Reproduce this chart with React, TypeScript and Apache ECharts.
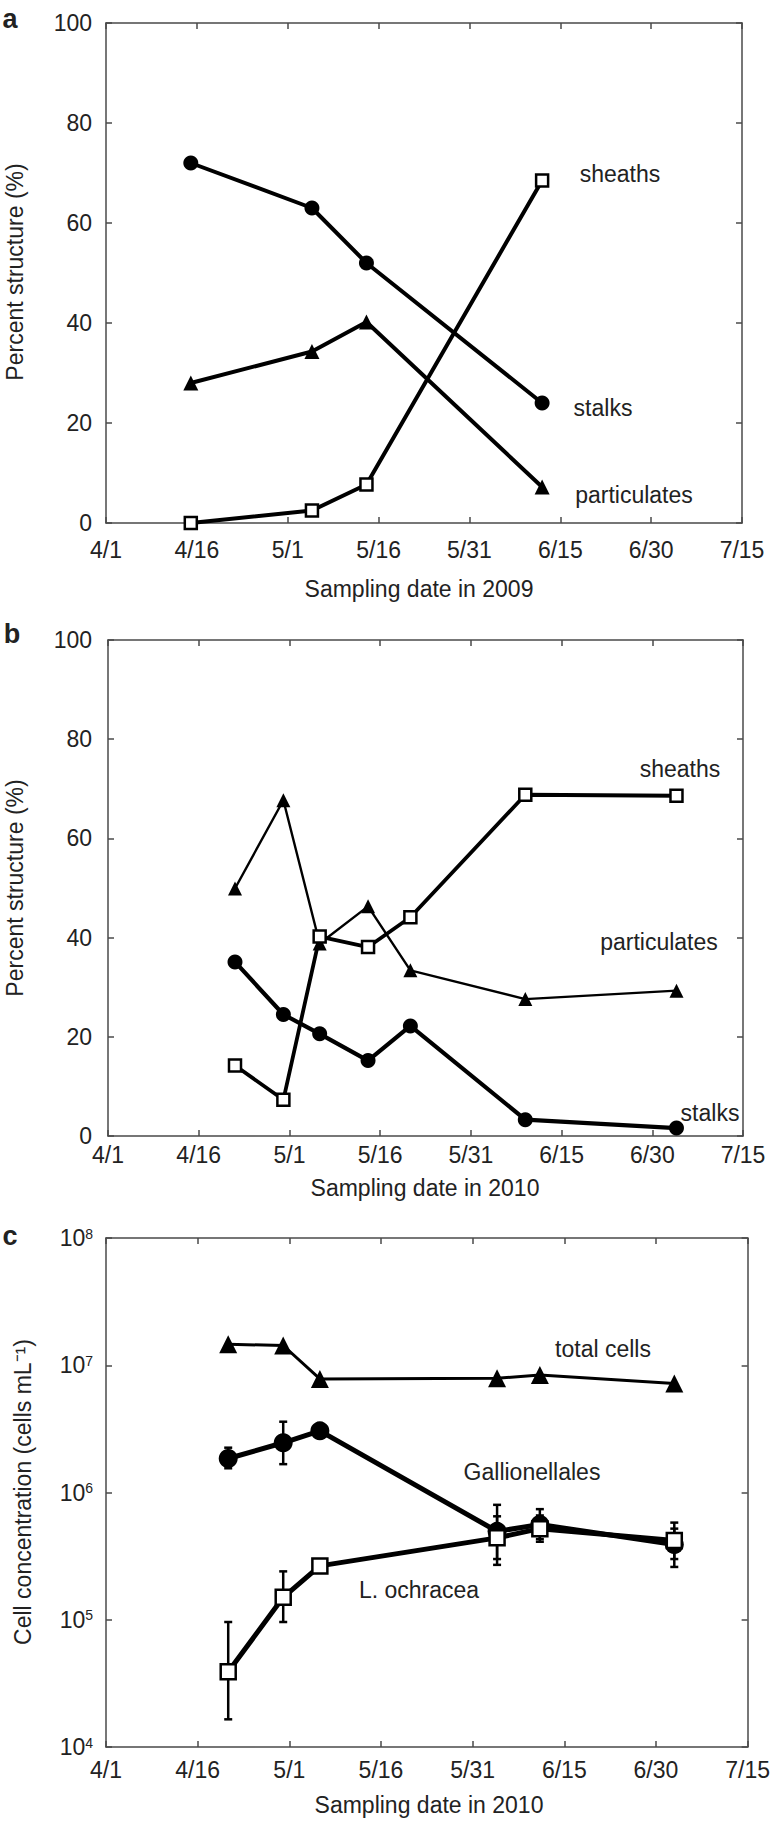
import React, { useEffect, useRef } from "react";
import * as echarts from "echarts";

// ---------- data ----------
const xTickLabels = ["4/1", "4/16", "5/1", "5/16", "5/31", "6/15", "6/30", "7/15"];

// panel a (2009)
const aDates = ["4/15", "5/5", "5/14", "6/12"];
const aStalks = [72, 63, 52, 24];
const aParticulates = [28, 34.3, 40.2, 7.2];
const aSheaths = [0, 2.5, 7.7, 68.5];

// panel b (2010)
const bDates = ["4/22", "4/30", "5/6", "5/14", "5/21", "6/9", "7/4"];
const bStalks = [35.1, 24.5, 20.6, 15.2, 22.2, 3.3, 1.6];
const bParticulates = [49.9, 67.7, 38.8, 46.3, 33.4, 27.6, 29.3];
const bSheaths = [14.2, 7.3, 40.2, 38.1, 44.1, 68.8, 68.6];

// panel c (2010, cells per mL)
const cDates = ["4/21", "4/30", "5/6", "6/4", "6/11", "7/3"];
const cTotal = [1.46e7, 1.43e7, 7.8e6, 7.9e6, 8.4e6, 7.2e6];
const cGallio = [1.85e6, 2.46e6, 3.05e6, 4.95e5, 5.6e5, 3.9e5];
const cGallioLow = [1.55e6, 1.67e6, null, 2.7e5, 4.1e5, 2.6e5];
const cGallioHigh = [2.25e6, 3.6e6, null, 8.0e5, 7.4e5, 5.8e5];
const cLoch = [3.9e4, 1.5e5, 2.65e5, 4.4e5, 5.2e5, 4.2e5];
const cLochLow = [1.65e4, 9.6e4, null, 3.0e5, 4.3e5, 3.0e5];
const cLochHigh = [9.6e4, 2.4e5, null, 6.5e5, 6.6e5, 5.2e5];

// ---------- helpers ----------
const FONT = '"Liberation Sans", Arial, Helvetica, sans-serif';
const TXT = "#222";
const FS = 23;
const AX = { color: "#4a4a4a", width: 1.5 };

function dayOf(s: string): number {
  const [m, d] = s.split("/").map(Number);
  const offs: Record<number, number> = { 4: -1, 5: 29, 6: 60, 7: 90 };
  return offs[m] + d;
}

function pts(dates: string[], vals: number[]) {
  return dates.map((d, i) => [dayOf(d), vals[i]]);
}

function lineSeries(g: number, data: any[], sym: string, size: number, width: number, z = 3) {
  const hollow = sym === "rect";
  return {
    type: "line",
    xAxisIndex: g * 2,
    yAxisIndex: g * 2,
    data,
    symbol: sym,
    symbolSize: size,
    showAllSymbol: true,
    lineStyle: { color: "#000", width },
    itemStyle: hollow
      ? { color: "#fff", borderColor: "#000", borderWidth: 2.5 }
      : { color: "#000", borderWidth: 0 },
    emphasis: { disabled: true },
    silent: true,
    z,
  };
}

function errSeries(g: number, dates: string[], lo: (number | null)[], hi: (number | null)[]) {
  const data: any[] = [];
  dates.forEach((d, i) => {
    if (lo[i] != null && hi[i] != null) data.push([dayOf(d), lo[i], hi[i]]);
  });
  return {
    type: "custom",
    xAxisIndex: g * 2,
    yAxisIndex: g * 2,
    data,
    encode: { x: 0, y: [1, 2] },
    silent: true,
    z: 2,
    renderItem: (params: any, api: any) => {
      const x = api.value(0);
      const a = api.coord([x, api.value(1)]);
      const b = api.coord([x, api.value(2)]);
      const w = 4;
      const st = { stroke: "#000", lineWidth: 2.5 };
      return {
        type: "group",
        children: [
          { type: "line", shape: { x1: a[0], y1: a[1], x2: b[0], y2: b[1] }, style: st },
          { type: "line", shape: { x1: a[0] - w, y1: a[1], x2: a[0] + w, y2: a[1] }, style: st },
          { type: "line", shape: { x1: b[0] - w, y1: b[1], x2: b[0] + w, y2: b[1] }, style: st },
        ],
      };
    },
  };
}

function xAxes(g: number, margin: number) {
  const base = {
    type: "value",
    gridIndex: g,
    min: 0,
    max: 105,
    interval: 15,
    axisLine: { show: true, onZero: false, lineStyle: AX },
    axisTick: { show: true, inside: true, length: 6, lineStyle: AX },
    splitLine: { show: false },
  };
  return [
    {
      ...base,
      position: "bottom",
      axisLabel: {
        margin,
        fontSize: FS,
        color: TXT,
        fontFamily: FONT,
        formatter: (v: number) => xTickLabels[Math.round(v / 15)],
      },
    },
    { ...base, position: "top", axisLabel: { show: false } },
  ];
}

function yAxesLin(g: number, margin: number) {
  const base = {
    type: "value",
    gridIndex: g,
    min: 0,
    max: 100,
    interval: 20,
    axisLine: { show: true, onZero: false, lineStyle: AX },
    axisTick: { show: true, inside: true, length: 6, lineStyle: AX },
    splitLine: { show: false },
  };
  return [
    { ...base, position: "left", axisLabel: { margin, fontSize: FS, color: TXT, fontFamily: FONT } },
    { ...base, position: "right", axisLabel: { show: false } },
  ];
}

function yAxesLog(g: number, margin: number) {
  const base = {
    type: "log",
    logBase: 10,
    gridIndex: g,
    min: 1e4,
    max: 1e8,
    axisLine: { show: true, onZero: false, lineStyle: AX },
    axisTick: { show: true, inside: true, length: 6, lineStyle: AX },
    minorTick: { show: false },
    splitLine: { show: false },
  };
  return [
    {
      ...base,
      position: "left",
      axisLabel: {
        margin,
        color: TXT,
        fontFamily: FONT,
        fontSize: FS,
        formatter: (v: number) => `{n|10}{s|${Math.round(Math.log10(v))}}`,
        rich: {
          n: { fontSize: FS, fontFamily: FONT, color: TXT, verticalAlign: "bottom", lineHeight: FS, padding: [6, 0, 0, 0] },
          s: { fontSize: 14, fontFamily: FONT, color: TXT, verticalAlign: "top", lineHeight: 14 },
        },
      },
    },
    { ...base, position: "right", axisLabel: { show: false } },
  ];
}

function txt(text: string, x: number, y: number, extra: any = {}) {
  return {
    type: "text",
    x,
    y,
    silent: true,
    ...extra,
    style: {
      text,
      fill: TXT,
      font: `${extra.weight || "normal"} ${extra.size || FS}px ${FONT}`,
      align: "center",
      verticalAlign: "middle",
    },
  };
}

export default function App() {
  const ref = useRef<HTMLDivElement>(null);

  useEffect(() => {
    if (!ref.current) return;
    const chart = echarts.init(ref.current, null, { renderer: "svg" });

    const option: any = {
      animation: false,
      backgroundColor: "#fff",
      grid: [
        { left: 106, top: 23, width: 636, height: 500 },
        { left: 108, top: 640, width: 635, height: 496 },
        { left: 106, top: 1238, width: 645, height: 509 },
      ],
      xAxis: [...xAxes(0, 15), ...xAxes(1, 7), ...xAxes(2, 11)],
      yAxis: [...yAxesLin(0, 14), ...yAxesLin(1, 16), ...yAxesLog(2, 13)],
      series: [
        // panel a
        lineSeries(0, pts(aDates, aParticulates), "triangle", 15, 4),
        lineSeries(0, pts(aDates, aStalks), "circle", 15, 4),
        lineSeries(0, pts(aDates, aSheaths), "rect", 12, 4, 4),
        // panel b
        lineSeries(1, pts(bDates, bParticulates), "triangle", 14, 2.4),
        lineSeries(1, pts(bDates, bStalks), "circle", 15, 4.2),
        lineSeries(1, pts(bDates, bSheaths), "rect", 12, 3.8, 4),
        // panel c
        errSeries(2, cDates, cLochLow, cLochHigh),
        errSeries(2, cDates, cGallioLow, cGallioHigh),
        lineSeries(2, pts(cDates, cTotal), "triangle", 18, 3),
        lineSeries(2, pts(cDates, cGallio), "circle", 19, 5),
        lineSeries(2, pts(cDates, cLoch), "rect", 15, 5, 4),
      ],
      graphic: [
        // panel letters
        txt("a", 10, 19, { size: 27, weight: "bold" }),
        txt("b", 12, 634, { size: 27, weight: "bold" }),
        txt("c", 10, 1236, { size: 27, weight: "bold" }),
        // axis titles
        txt("Percent structure (%)", 15, 272, { rotation: Math.PI / 2 }),
        txt("Percent structure (%)", 15, 888, { rotation: Math.PI / 2 }),
        txt("Cell concentration (cells mL⁻¹)", 23, 1492, { rotation: Math.PI / 2 }),
        txt("Sampling date in 2009", 419, 589),
        txt("Sampling date in 2010", 425, 1188),
        txt("Sampling date in 2010", 429, 1805),
        // series annotations a
        txt("sheaths", 620, 174),
        txt("stalks", 603, 408),
        txt("particulates", 634, 495),
        // series annotations b
        txt("sheaths", 680, 769),
        txt("particulates", 659, 942),
        txt("stalks", 710, 1113),
        // series annotations c
        txt("total cells", 603, 1349),
        txt("Gallionellales", 532, 1472),
        txt("L. ochracea", 419, 1590),
      ],
    };

    chart.setOption(option);
    return () => chart.dispose();
  }, []);

  return (
    <div
      ref={ref}
      style={{ position: "absolute", left: 0, top: 0, width: 773, height: 1821, background: "#fff" }}
    />
  );
}
